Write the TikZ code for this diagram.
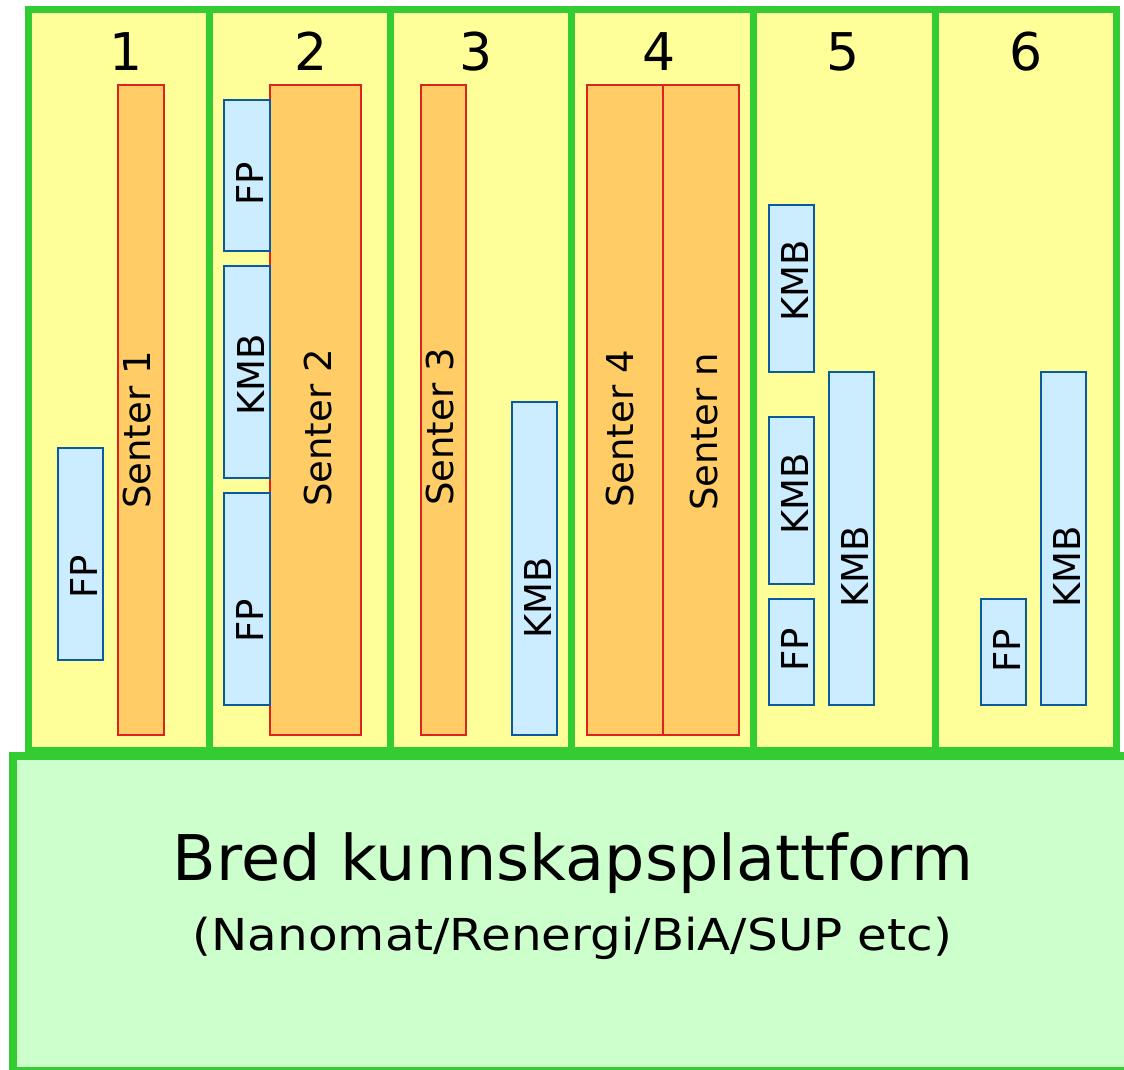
\documentclass[tikz,border=0pt]{standalone}
\usepackage{fontspec}
\usepackage{graphicx}
\setmainfont{DejaVu Sans}
\definecolor{yellowbg}{HTML}{FFFF99}
\definecolor{greenline}{HTML}{33CC33}
\definecolor{lightgreen}{HTML}{CCFFCC}
\definecolor{orangefill}{HTML}{FFCC66}
\definecolor{redline}{HTML}{DD2222}
\definecolor{bluefill}{HTML}{CCECFF}
\definecolor{blueline}{HTML}{0A5AA0}
\tikzset{
  colbox/.style={draw=greenline, fill=yellowbg, line width=7pt, inner sep=0pt, outer sep=0pt},
  basebox/.style={draw=greenline, fill=lightgreen, line width=8pt, inner sep=0pt, outer sep=0pt},
  senterbox/.style={draw=redline, fill=orangefill, line width=1.5pt, inner sep=0pt, outer sep=0pt, minimum height=650pt},
  bluebox/.style={draw=blueline, fill=bluefill, line width=2.5pt, inner sep=0pt, outer sep=0pt, minimum width=45pt},
  vlabel/.style={rotate=90, anchor=base, inner sep=0pt, font=\fontsize{37}{40}\selectfont},
  numlabel/.style={anchor=base, inner sep=0pt, font=\fontsize{52}{56}\selectfont},
}
\begin{document}
\begin{tikzpicture}[x=1pt, y=-1pt]
\useasboundingbox (0,0) rectangle (1124,1069);
\clip (0,0) rectangle (1124,1069);
% columns
\node[colbox, minimum width=181pt, minimum height=741.4pt] (c1) at (119,379.7) {};
\node[colbox, minimum width=180.5pt, minimum height=741.4pt] (c2) at (299.75,379.7) {};
\node[colbox, minimum width=181pt, minimum height=741.4pt] (c3) at (480.5,379.7) {};
\node[colbox, minimum width=182pt, minimum height=741.4pt] (c4) at (662,379.7) {};
\node[colbox, minimum width=182pt, minimum height=741.4pt] (c5) at (844,379.7) {};
\node[colbox, minimum width=181.5pt, minimum height=741.4pt] (c6) at (1025.75,379.7) {};
% bottom platform
\node[basebox, minimum width=1122.5pt, minimum height=315pt] (base) at (573.75,913.5) {};
% numbers
\node[numlabel] (n1) at (126,70) {1};
\node[numlabel] (n2) at (311,70) {2};
\node[numlabel] (n3) at (476,70) {3};
\node[numlabel] (n4) at (659,70) {4};
\node[numlabel] (n5) at (843,70) {5};
\node[numlabel] (n6) at (1026,70) {6};
% senter boxes
\node[senterbox, minimum width=46pt] (s1) at (141,410) {};
\node[senterbox, minimum width=91pt] (s2) at (315.5,410) {};
\node[senterbox, minimum width=45pt] (s3) at (443.5,410) {};
\node[senterbox, minimum width=76pt] (s4) at (625,410) {};
\node[senterbox, minimum width=76pt] (sn) at (701,410) {};
% blue boxes
\node[bluebox, minimum height=212pt] (fp1) at (80.5,554) {};
\node[bluebox, minimum width=46pt, minimum height=151pt] (fp2a) at (247,175.5) {};
\node[bluebox, minimum width=46pt, minimum height=212pt] (kmb2) at (247,372) {};
\node[bluebox, minimum width=46pt, minimum height=212pt] (fp2b) at (247,599) {};
\node[bluebox, minimum height=333pt] (kmb3) at (534.5,568.5) {};
\node[bluebox, minimum height=167pt] (kmb5a) at (791.5,288.5) {};
\node[bluebox, minimum height=167pt] (kmb5b) at (791.5,500.5) {};
\node[bluebox, minimum height=106pt] (fp5) at (791.5,652) {};
\node[bluebox, minimum height=333pt] (kmb5c) at (851.5,538.5) {};
\node[bluebox, minimum height=106pt] (fp6) at (1003.5,652) {};
\node[bluebox, minimum height=333pt] (kmb6) at (1063.5,538.5) {};
% vertical labels
\node[vlabel] (ls1) at (150,430) {Senter 1};
\node[vlabel] (ls2) at (331,428) {Senter 2};
\node[vlabel] (ls3) at (453,427) {Senter 3};
\node[vlabel] (ls4) at (633,429) {Senter 4};
\node[vlabel] (lsn) at (717,432) {Senter n};
\node[vlabel] (lfp1) at (97,577) {FP};
\node[vlabel] (lfp2a) at (263,184) {FP};
\node[vlabel] (lkmb2) at (264,375) {KMB};
\node[vlabel] (lfp2b) at (263,621) {FP};
\node[vlabel] (lkmb3) at (551,598) {KMB};
\node[vlabel] (lkmb5a) at (808,281) {KMB};
\node[vlabel] (lkmb5b) at (808,494) {KMB};
\node[vlabel] (lfp5) at (808,650) {FP};
\node[vlabel] (lkmb5c) at (868,567) {KMB};
\node[vlabel] (lfp6) at (1020,651) {FP};
\node[vlabel] (lkmb6) at (1080,567) {KMB};
% platform text
\node[anchor=base, inner sep=0pt, font=\fontsize{63}{68}\selectfont] (t1) at (573,880) {\scalebox{1.01}[1]{Bred kunnskapsplattform}};
\node[anchor=base, inner sep=0pt, font=\fontsize{44}{48}\selectfont] (t2) at (572.5,950) {\scalebox{1.1}[1]{(Nanomat/Renergi/BiA/SUP etc)}};
\end{tikzpicture}
\end{document}
